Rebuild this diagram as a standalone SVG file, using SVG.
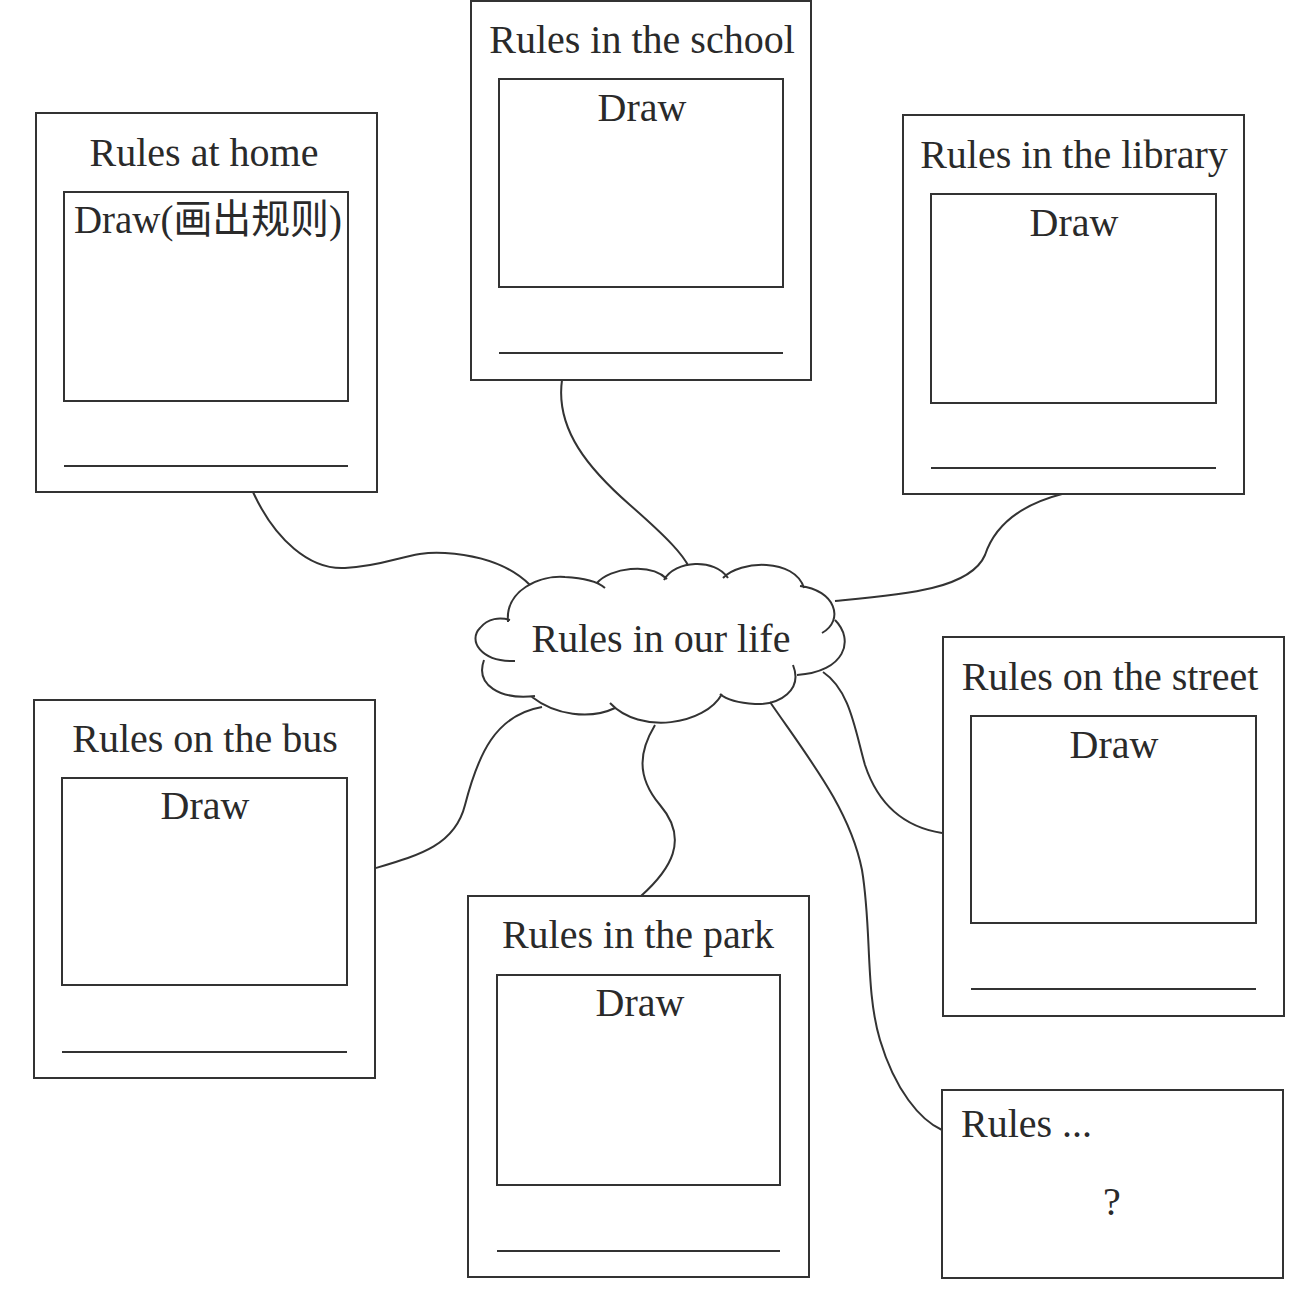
<svg xmlns="http://www.w3.org/2000/svg" width="1311" height="1296" viewBox="0 0 1311 1296">
<style>
.box{fill:none;stroke:#333;stroke-width:2}
.ln{stroke:#333;stroke-width:2}
.t{font-family:"Liberation Serif","Noto Sans CJK SC",serif;font-size:40px;fill:#2a2a2a}
.c{text-anchor:middle}
.conn{fill:none;stroke:#333;stroke-width:2}
</style>
<rect width="1311" height="1296" fill="#fff"/>
<g id="connectors">
<path class="conn" d="M253,492 C275,540 310,570 345,568 C390,566 410,550 445,553 C490,556 515,570 530,585"/>
<path class="conn" d="M562,380 C555,430 590,470 630,505 C670,540 683,555 689,567"/>
<path class="conn" d="M1062,494 C1020,505 995,525 985,555 C970,590 900,595 835,601"/>
<path class="conn" d="M376,868 C420,855 455,845 465,805 C478,755 495,715 542,707"/>
<path class="conn" d="M655,725 C640,750 635,775 660,805 C690,840 670,870 641,896"/>
<path class="conn" d="M823,672 C850,690 855,730 865,765 C880,810 910,828 942,833"/>
<path class="conn" d="M770,702 C810,760 850,810 862,870 C872,930 865,990 880,1040 C895,1090 920,1120 942,1130"/>
</g>
<g id="center">
<path fill="#fff" stroke="none" d="M508,622 C505,590 540,575 565,577 C600,565 650,560 690,565 C740,555 795,558 804,588 C840,595 855,640 835,660 C830,672 800,675 793,668 C800,695 770,705 740,703 C705,725 640,735 610,705 C590,720 555,715 532,697 C500,700 470,680 484,658 C470,640 480,618 508,622 Z"/>
<path fill="none" stroke="#333" stroke-width="2" d="M508,622 C505,590 540,575 565,577 C585,578 598,582 605,588 M597,583 C610,568 650,562 667,579 M664,580 C675,560 715,558 728,578 M723,578 C740,560 795,558 804,588 M800,586 C835,590 845,620 822,633 M835,620 C855,640 845,672 797,675 M793,665 C803,690 780,705 755,704 C738,703 727,700 720,694 M722,694 C705,725 640,735 610,703 M615,708 C590,720 555,715 532,697 M535,696 C500,700 475,685 484,660 M515,661 C480,662 468,640 480,628 C488,618 500,617 510,620"/>
<text class="t c" x="661" y="652">Rules in our life</text>
</g>
<g id="home">
<rect class="box" x="36" y="113" width="341" height="379"/>
<rect class="box" x="64" y="192" width="284" height="209"/>
<line class="ln" x1="64" y1="466" x2="348" y2="466"/>
<text class="t c" x="204" y="166">Rules at home</text>
<text class="t" x="74" y="233" font-size="38" textLength="268" lengthAdjust="spacingAndGlyphs">Draw(画出规则)</text>
</g>
<g id="school">
<rect class="box" x="471" y="1" width="340" height="379"/>
<rect class="box" x="499" y="79" width="284" height="208"/>
<line class="ln" x1="499" y1="353" x2="783" y2="353"/>
<text class="t c" x="642" y="53">Rules in the school</text>
<text class="t c" x="642" y="121">Draw</text>
</g>
<g id="library">
<rect class="box" x="903" y="115" width="341" height="379"/>
<rect class="box" x="931" y="194" width="285" height="209"/>
<line class="ln" x1="931" y1="468" x2="1216" y2="468"/>
<text class="t c" x="1074" y="168">Rules in the library</text>
<text class="t c" x="1074" y="236">Draw</text>
</g>
<g id="street">
<rect class="box" x="943" y="637" width="341" height="379"/>
<rect class="box" x="971" y="716" width="285" height="207"/>
<line class="ln" x1="971" y1="989" x2="1256" y2="989"/>
<text class="t c" x="1110" y="690">Rules on the street</text>
<text class="t c" x="1114" y="758">Draw</text>
</g>
<g id="bus">
<rect class="box" x="34" y="700" width="341" height="378"/>
<rect class="box" x="62" y="778" width="285" height="207"/>
<line class="ln" x1="62" y1="1052" x2="347" y2="1052"/>
<text class="t c" x="205" y="752">Rules on the bus</text>
<text class="t c" x="205" y="819">Draw</text>
</g>
<g id="park">
<rect class="box" x="468" y="896" width="341" height="381"/>
<rect class="box" x="497" y="975" width="283" height="210"/>
<line class="ln" x1="497" y1="1251" x2="780" y2="1251"/>
<text class="t c" x="638" y="948">Rules in the park</text>
<text class="t c" x="640" y="1016">Draw</text>
</g>
<g id="other">
<rect class="box" x="942" y="1090" width="341" height="188"/>
<text class="t" x="961" y="1137">Rules ...</text>
<text class="t c" x="1112" y="1215">?</text>
</g>
</svg>
